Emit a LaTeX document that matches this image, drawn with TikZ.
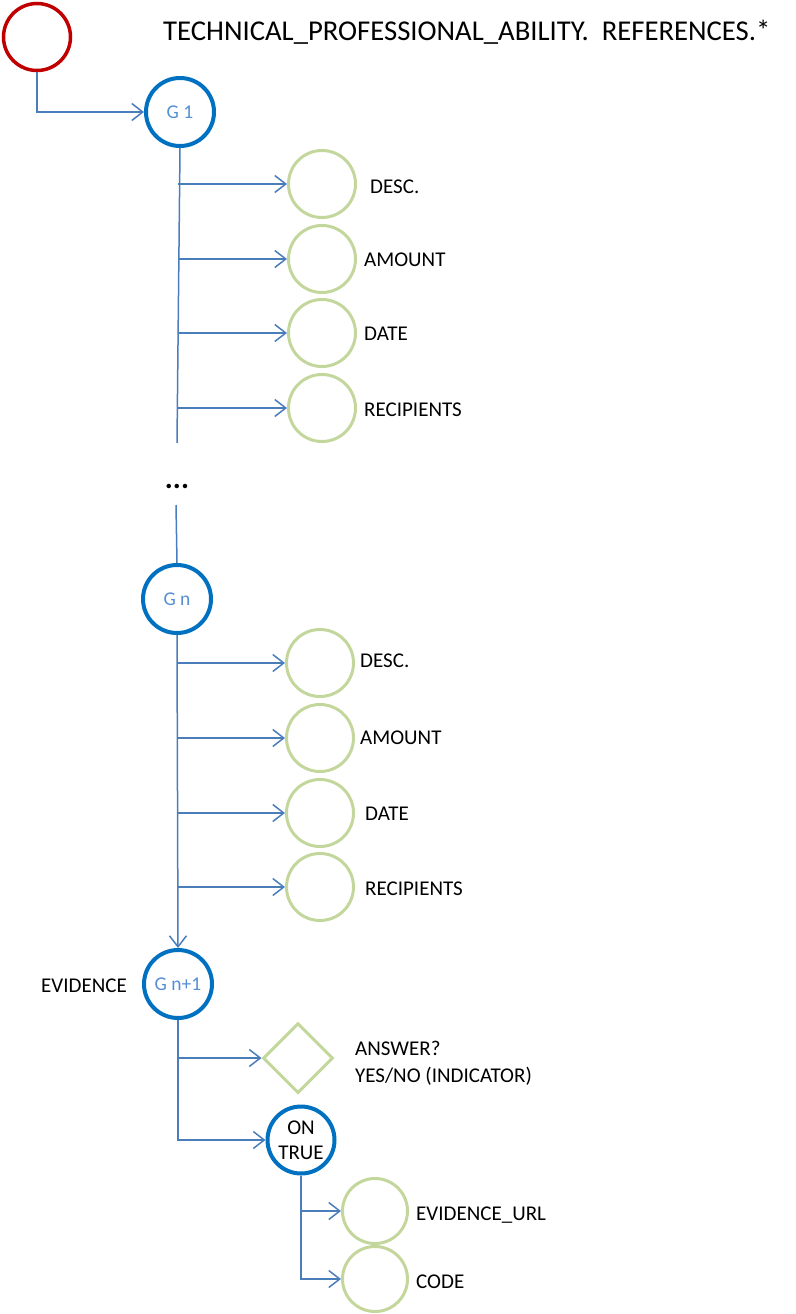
\documentclass[tikz,border=0pt]{standalone}
\usepackage{fontspec}
\setmainfont{Carlito}
\usetikzlibrary{arrows.meta,shapes.geometric}
\definecolor{cred}{HTML}{C00000}
\definecolor{cblue}{HTML}{0070C0}
\definecolor{cline}{HTML}{4A7EBB}
\definecolor{cgreen}{HTML}{C3D69B}
\definecolor{glab}{HTML}{558ED5}
\begin{document}
\begin{tikzpicture}[x=1pt,y=-1pt,
  conn/.style={draw=cline,line width=1.5pt,-{Straight Barb[length=11pt,width=17pt]}},
  plain/.style={draw=cline,line width=1.5pt},
  rootnode/.style={circle,draw=cred,line width=3.5pt,minimum size=67pt,inner sep=0pt},
  gnode/.style={circle,draw=cblue,line width=4pt,minimum size=68pt,inner sep=0pt,text=glab,font=\fontsize{19.5}{22}\selectfont},
  leaf/.style={circle,draw=cgreen,line width=3pt,minimum size=67pt,inner sep=0pt},
  dia/.style={diamond,draw=cgreen,line width=3pt,minimum width=70pt,minimum height=70pt,inner sep=0pt},
  lab/.style={anchor=base west,font=\fontsize{21}{25}\selectfont,inner sep=0pt},
]
\useasboundingbox (0,0) rectangle (795,1314);
% title
\node[anchor=base west,inner sep=0pt,font=\fontsize{28.7}{32}\selectfont] (title) at (163,41) {TECHNICAL\_PROFESSIONAL\_ABILITY.\ \ REFERENCES.*};
% nodes
\node[rootnode] (root) at (37,37) {};
\node[gnode] (g1) at (180,112) {G 1};
\node[leaf] (a1) at (322,184) {};
\node[leaf] (a2) at (322,259) {};
\node[leaf] (a3) at (322,333) {};
\node[leaf] (a4) at (322,408) {};
\node[lab] (la1) at (370,193) {DESC.};
\node[lab] (la2) at (364,266) {AMOUNT};
\node[lab] (la3) at (364,340) {DATE};
\node[lab] (la4) at (364,416) {RECIPIENTS};
\coordinate (t1end) at (177,443);
\coordinate (t1x) at (178,0);
\node[anchor=base,inner sep=0pt,font=\bfseries\fontsize{30}{34}\selectfont] (dots) at (177,488) {...};
\coordinate (t2start) at (176,505);
\node[gnode] (gn) at (177,599) {G n};
\node[leaf] (b1) at (320,663) {};
\node[leaf] (b2) at (320,738) {};
\node[leaf] (b3) at (320,813) {};
\node[leaf] (b4) at (320,887) {};
\node[lab] (lb1) at (360,667) {DESC.};
\node[lab] (lb2) at (360,744) {AMOUNT};
\node[lab] (lb3) at (365,820) {DATE};
\node[lab] (lb4) at (365,895) {RECIPIENTS};
\node[gnode] (gn1) at (178,984) {G n+1};
\node[lab,anchor=base east] (lev) at (127,992) {EVIDENCE};
\node[dia] (ans) at (298,1058) {};
\node[lab,align=left,anchor=north west] (lans) at (355,1041) {ANSWER?\\[2pt]YES/NO (INDICATOR)};
\node[circle,draw=cblue,line width=4pt,minimum size=67pt,inner sep=0pt,align=center,font=\fontsize{21}{25}\selectfont] (ontrue) at (301,1140) {ON\\TRUE};
\node[leaf,minimum size=65pt] (url) at (375,1211) {};
\node[leaf,minimum size=65pt] (code) at (375,1279) {};
\node[lab] (lurl) at (416,1220) {EVIDENCE\_URL};
\node[lab] (lcode) at (416,1288) {CODE};
% connectors
\draw[conn] (root.south) |- (g1.west);
\draw[plain] (g1.south) -- (t1end);
\foreach \n in {a1,a2,a3,a4} \draw[conn] (t1x |- \n.west) -- (\n.west);
\draw[plain] (t2start) -- (gn.north);
\draw[conn] (gn.south) -- (gn1.north);
\foreach \n in {b1,b2,b3,b4} \draw[conn] (gn.south |- \n.west) -- (\n.west);
\draw[conn] (gn1.south |- ans.west) -- (ans.west);
\draw[conn] (gn1.south) |- (ontrue.west);
\draw[conn] (ontrue.south |- url.west) -- (url.west);
\draw[conn] (ontrue.south) |- (code.west);
\end{tikzpicture}
\end{document}
